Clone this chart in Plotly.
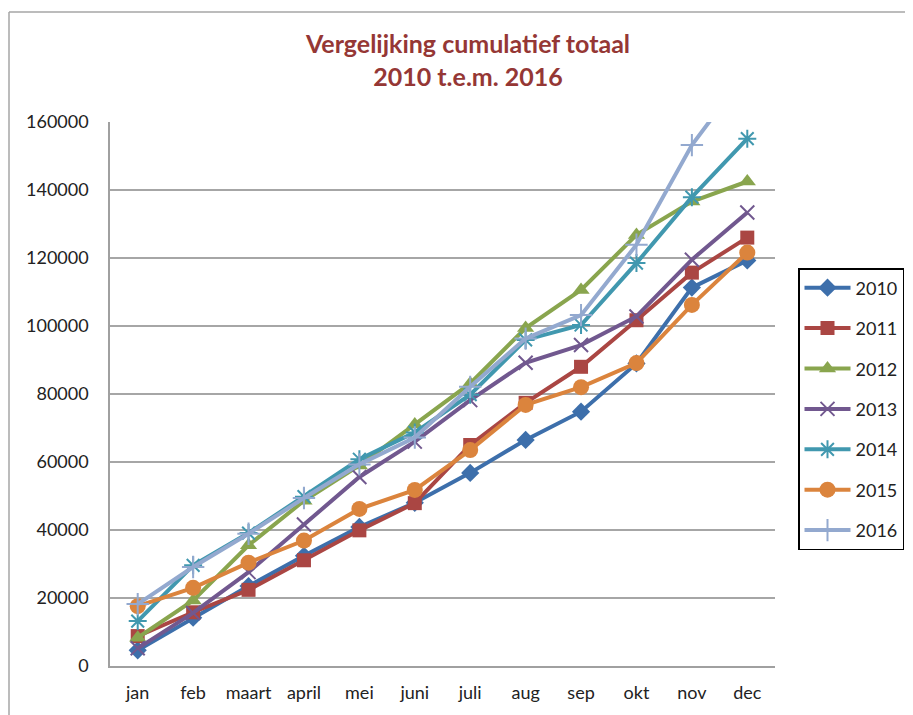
import plotly.graph_objects as go

months = ["jan", "feb", "maart", "april", "mei", "juni", "juli", "aug", "sep", "okt", "nov", "dec"]

y2010 = [4600, 14200, 23500, 32400, 40900, 48000, 56800, 66500, 74800, 89000, 111300, 119300]
y2011 = [8800, 15800, 22400, 31100, 39900, 47900, 65000, 77400, 88000, 101700, 115700, 126000]
y2012 = [8300, 19300, 35500, 48600, 59000, 71000, 83100, 99400, 110600, 126800, 136600, 142500]
y2013 = [5200, 15600, 27600, 41600, 55600, 66000, 78200, 89200, 94400, 102800, 119500, 133400]
y2014 = [13200, 29600, 39100, 49800, 60800, 68700, 79800, 95900, 100300, 118500, 137900, 155100]
y2015 = [17600, 23000, 30400, 36900, 46200, 51800, 63500, 76800, 82000, 89100, 106200, 121600]
y2016 = [18200, 29100, 38900, 49400, 59300, 67200, 82100, 96300, 103200, 123900, 153200, 175000]

series_names = ["2010", "2011", "2012", "2013", "2014", "2015", "2016"]
series_values = [y2010, y2011, y2012, y2013, y2014, y2015, y2016]

colors = ["#3D6FAB", "#AA4643", "#89A54E", "#71588F", "#4198AF", "#DB843D", "#93A9CF"]
symbols = ["diamond", "square", "triangle-up", "x-thin-open", "asterisk-open", "circle", "cross-thin-open"]
sizes = [14, 14, 15, 14, 15, 16, 16]

# The page body has an 8px margin, so the figure is drawn 8px smaller and
# all window positions below are expressed relative to the plot area.
W, H = 905, 707
OFF = 8
PL, PR, PT, PB = 110, 775, 122, 666   # plot area in window pixels

def px(xw):
    return (xw - PL) / (PR - PL)

def py(yw):
    return (PB - yw) / (PB - PT)

fig = go.Figure()
for name, vals, col, sym, sz in zip(series_names, series_values, colors, symbols, sizes):
    open_sym = sym.endswith("-open")
    fig.add_trace(go.Scatter(
        x=months, y=vals, name=name, mode="lines+markers",
        legendgroup=name,
        line=dict(color=col, width=4),
        marker=dict(symbol=sym, size=sz, color=col,
                    line=dict(color=col, width=2 if open_sym else 0)),
    ))

fig.update_layout(
    width=W, height=H,
    paper_bgcolor="white", plot_bgcolor="white",
    margin=dict(l=PL - OFF, r=W - (PR - OFF), t=PT - OFF, b=H - (PB - OFF), autoexpand=False),
    font=dict(family="Lato, 'Open Sans', sans-serif", size=18, color="#222222"),
    title=dict(
        text="<b>Vergelijking cumulatief totaal<br>2010 t.e.m. 2016</b>",
        x=(468 - OFF) / W, xanchor="center",
        y=1 - 45 / H, yanchor="top",
        font=dict(size=25, color="#953735", family="Lato, 'Open Sans', sans-serif"),
    ),
    showlegend=True,
    legend=dict(
        x=px(798), xanchor="left",
        y=py(268), yanchor="top",
        bordercolor="#000000", borderwidth=1.5,
        bgcolor="white",
        font=dict(size=18, color="#222222"),
        tracegroupgap=14,
        itemwidth=46,
    ),
    xaxis=dict(
        range=[-0.5, len(months) - 0.5],
        showgrid=False, showline=True, linecolor="#A0A0A0", linewidth=1.5,
        ticks="", ticklabelstandoff=10,
    ),
    yaxis=dict(
        range=[0, 160000], dtick=20000, tickformat="d",
        showgrid=True, gridcolor="#A6A6A6", gridwidth=1.5,
        showline=True, linecolor="#A0A0A0", linewidth=1.5,
        zeroline=False, ticks="", ticklabelstandoff=16,
    ),
)

# outer chart-area border (top and left visible)
fig.add_shape(type="line", xref="paper", yref="paper",
              x0=px(9), x1=px(920), y0=py(12), y1=py(12),
              line=dict(color="#A6A6A6", width=1.5))
fig.add_shape(type="line", xref="paper", yref="paper",
              x0=px(9), x1=px(9), y0=py(12), y1=py(730),
              line=dict(color="#A6A6A6", width=1.5))

fig.write_html("out.html")
